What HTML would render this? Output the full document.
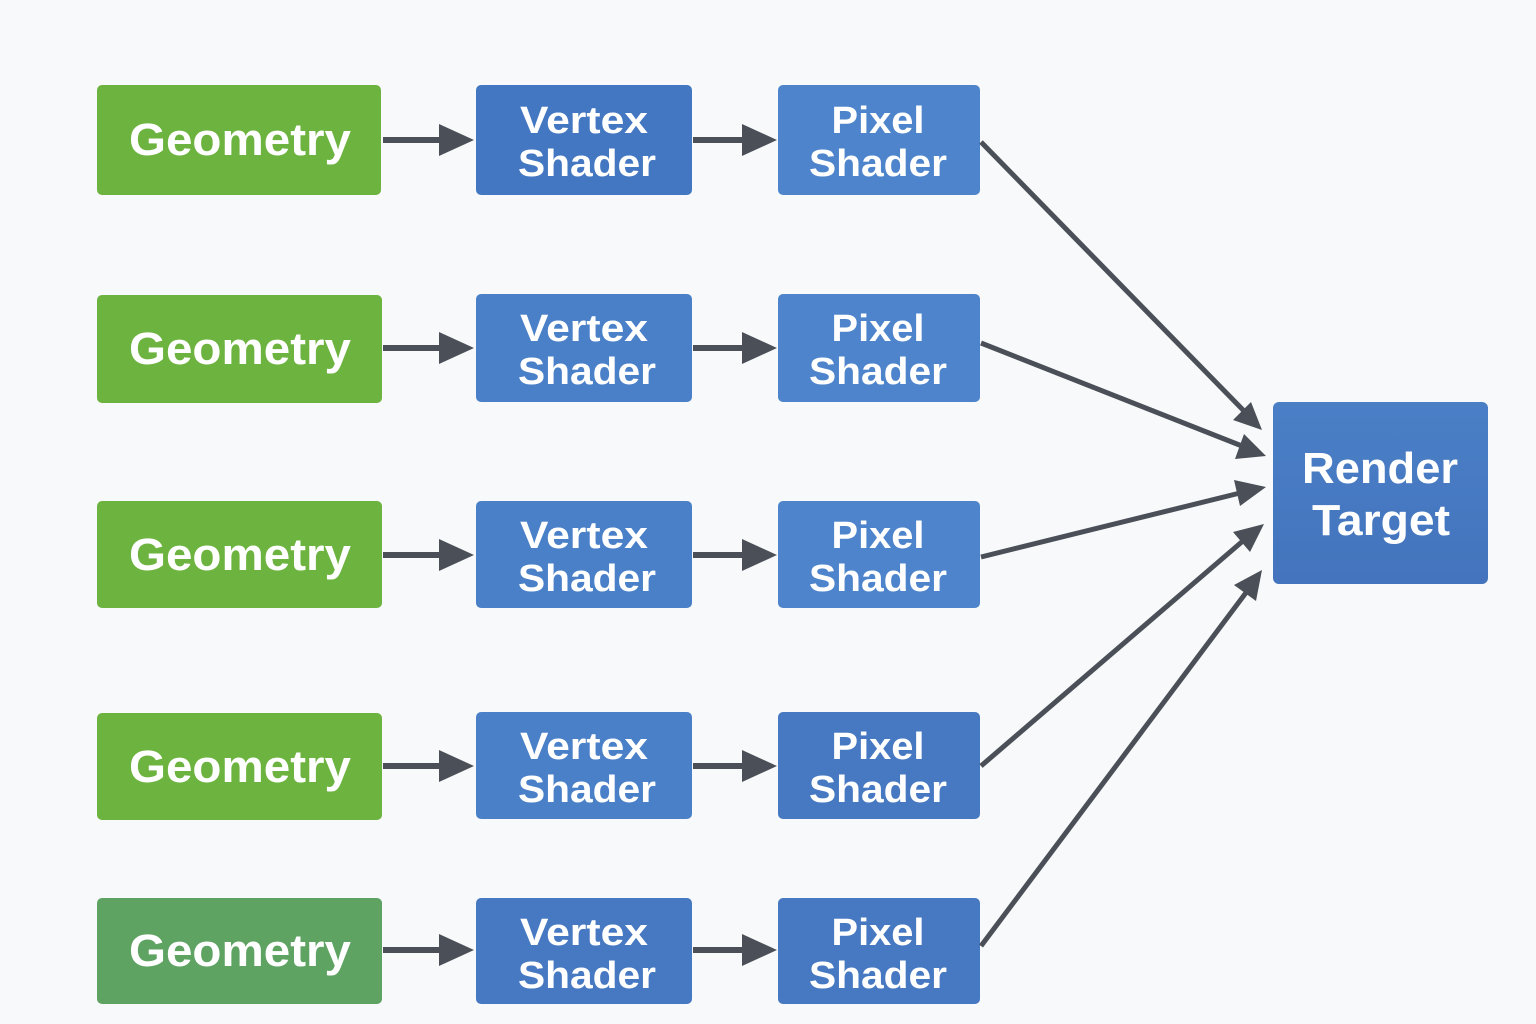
<!DOCTYPE html>
<html><head><meta charset="utf-8"><style>
html,body{margin:0;padding:0;background:#f8f9fa;}
svg{display:block}
text{font-family:"Liberation Sans",sans-serif;font-weight:bold;fill:#fff;text-anchor:middle}
</style></head><body>
<svg width="1536" height="1024" viewBox="0 0 1536 1024" xmlns="http://www.w3.org/2000/svg">
<defs>
<marker id="a" markerWidth="10" markerHeight="10" refX="9" refY="5" orient="auto" markerUnits="userSpaceOnUse" viewBox="0 0 10 10">
</marker>
<linearGradient id="b" x1="0" y1="0" x2="0" y2="1"><stop offset="0" stop-color="#4a7fc6"/><stop offset="1" stop-color="#4374bd"/></linearGradient>
</defs>
<rect width="1536" height="1024" fill="#f8f9fa"/>
<g id="rows"></g>
<!-- Row boxes -->
<g>
<rect x="97" y="85" width="284" height="110" rx="5" fill="#6db33f"/>
<rect x="97" y="295" width="285" height="108" rx="5" fill="#6db33f"/>
<rect x="97" y="501" width="285" height="107" rx="5" fill="#6db33f"/>
<rect x="97" y="713" width="285" height="107" rx="5" fill="#6db33f"/>
<rect x="97" y="898" width="285" height="106" rx="5" fill="#5fa363"/>

<rect x="476" y="85" width="216" height="110" rx="5" fill="#4377c1"/>
<rect x="476" y="294" width="216" height="108" rx="5" fill="#4a80c8"/>
<rect x="476" y="501" width="216" height="107" rx="5" fill="#4a80c8"/>
<rect x="476" y="712" width="216" height="107" rx="5" fill="#4a80c8"/>
<rect x="476" y="898" width="216" height="106" rx="5" fill="#4679c2"/>

<rect x="778" y="85" width="202" height="110" rx="5" fill="#4d84cb"/>
<rect x="778" y="294" width="202" height="108" rx="5" fill="#4d84cb"/>
<rect x="778" y="501" width="202" height="107" rx="5" fill="#4d84cb"/>
<rect x="778" y="712" width="202" height="107" rx="5" fill="#4679c2"/>
<rect x="778" y="898" width="202" height="106" rx="5" fill="#4679c2"/>

<rect x="1273" y="402" width="215" height="182" rx="6" fill="url(#b)"/>
</g>
<!-- horizontal arrows -->
<g stroke="#4b5058" stroke-width="6" fill="none">
<line x1="383" y1="140" x2="442" y2="140"/><line x1="693" y1="140" x2="745" y2="140"/>
<line x1="383" y1="348" x2="442" y2="348"/><line x1="693" y1="348" x2="745" y2="348"/>
<line x1="383" y1="555" x2="442" y2="555"/><line x1="693" y1="555" x2="745" y2="555"/>
<line x1="383" y1="766" x2="442" y2="766"/><line x1="693" y1="766" x2="745" y2="766"/>
<line x1="383" y1="950" x2="442" y2="950"/><line x1="693" y1="950" x2="745" y2="950"/>
</g>
<g fill="#4b5058">
<polygon points="439,124 474,140 439,156"/><polygon points="742,124 777,140 742,156"/>
<polygon points="439,332 474,348 439,364"/><polygon points="742,332 777,348 742,364"/>
<polygon points="439,539 474,555 439,571"/><polygon points="742,539 777,555 742,571"/>
<polygon points="439,750 474,766 439,782"/><polygon points="742,750 777,766 742,782"/>
<polygon points="439,934 474,950 439,966"/><polygon points="742,934 777,950 742,966"/>
</g>
<!-- diagonals -->
<g stroke="#4b5058" stroke-width="5" fill="none">
<line x1="981" y1="142" x2="1245" y2="412"/>
<line x1="981" y1="343" x2="1242" y2="446"/>
<line x1="981" y1="557" x2="1240" y2="493"/>
<line x1="981" y1="766" x2="1244" y2="540"/>
<line x1="981" y1="946" x2="1248" y2="590"/>
</g>
<g fill="#4b5058">
<polygon points="1262,430 1233,420 1251,402"/>
<polygon points="1266,456 1235,459 1244,434"/>
<polygon points="1266,487 1240,506 1234,480"/>
<polygon points="1264,524 1250,552 1233,532"/>
<polygon points="1262,570 1256,601 1234,585"/>
</g>
<!-- text -->
<g font-size="45">
<text x="240" y="155" textLength="222" lengthAdjust="spacingAndGlyphs">Geometry</text>
<text x="240" y="364" textLength="222" lengthAdjust="spacingAndGlyphs">Geometry</text>
<text x="240" y="570" textLength="222" lengthAdjust="spacingAndGlyphs">Geometry</text>
<text x="240" y="782" textLength="222" lengthAdjust="spacingAndGlyphs">Geometry</text>
<text x="240" y="966" textLength="222" lengthAdjust="spacingAndGlyphs">Geometry</text>
</g>
<g font-size="38">
<text x="584" y="133" textLength="128" lengthAdjust="spacingAndGlyphs">Vertex</text>
<text x="587" y="176" textLength="138" lengthAdjust="spacingAndGlyphs">Shader</text>
<text x="878" y="133" textLength="93" lengthAdjust="spacingAndGlyphs">Pixel</text>
<text x="878" y="176" textLength="138" lengthAdjust="spacingAndGlyphs">Shader</text>

<text x="584" y="341" textLength="128" lengthAdjust="spacingAndGlyphs">Vertex</text>
<text x="587" y="384" textLength="138" lengthAdjust="spacingAndGlyphs">Shader</text>
<text x="878" y="341" textLength="93" lengthAdjust="spacingAndGlyphs">Pixel</text>
<text x="878" y="384" textLength="138" lengthAdjust="spacingAndGlyphs">Shader</text>

<text x="584" y="548" textLength="128" lengthAdjust="spacingAndGlyphs">Vertex</text>
<text x="587" y="591" textLength="138" lengthAdjust="spacingAndGlyphs">Shader</text>
<text x="878" y="548" textLength="93" lengthAdjust="spacingAndGlyphs">Pixel</text>
<text x="878" y="591" textLength="138" lengthAdjust="spacingAndGlyphs">Shader</text>

<text x="584" y="759" textLength="128" lengthAdjust="spacingAndGlyphs">Vertex</text>
<text x="587" y="802" textLength="138" lengthAdjust="spacingAndGlyphs">Shader</text>
<text x="878" y="759" textLength="93" lengthAdjust="spacingAndGlyphs">Pixel</text>
<text x="878" y="802" textLength="138" lengthAdjust="spacingAndGlyphs">Shader</text>

<text x="584" y="945" textLength="128" lengthAdjust="spacingAndGlyphs">Vertex</text>
<text x="587" y="988" textLength="138" lengthAdjust="spacingAndGlyphs">Shader</text>
<text x="878" y="945" textLength="93" lengthAdjust="spacingAndGlyphs">Pixel</text>
<text x="878" y="988" textLength="138" lengthAdjust="spacingAndGlyphs">Shader</text>
</g>
<g font-size="44">
<text x="1380" y="483" textLength="156" lengthAdjust="spacingAndGlyphs">Render</text>
<text x="1381" y="535" textLength="138" lengthAdjust="spacingAndGlyphs">Target</text>
</g>
</svg>
</body></html>
